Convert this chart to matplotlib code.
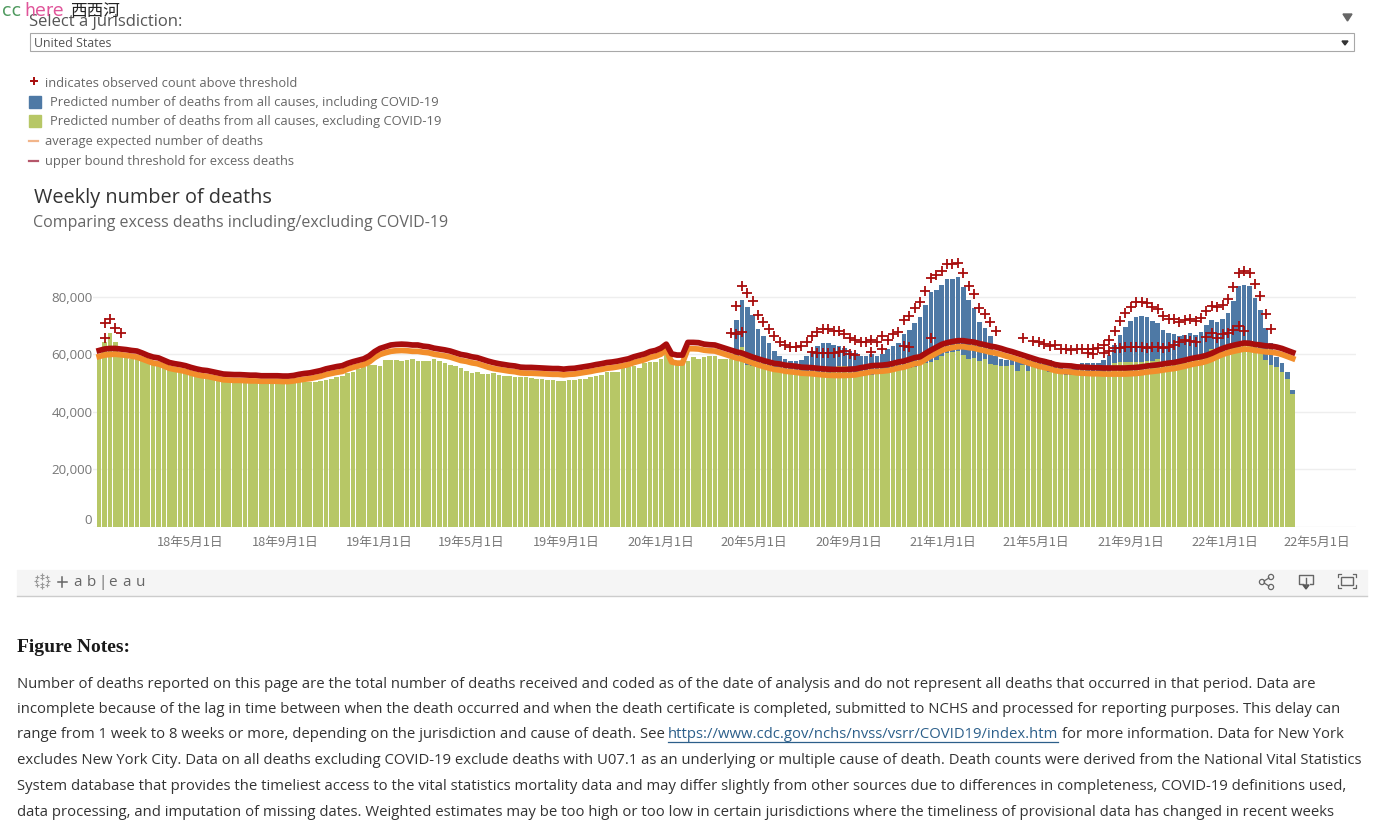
import matplotlib
matplotlib.use('Agg')
import matplotlib.pyplot as plt
import matplotlib.transforms as mtransforms
import numpy as np
import pandas as pd
from matplotlib.patches import Rectangle, Polygon, Circle

# semanas (fim de semana epidemiologica)
weeks = pd.date_range('2018-01-06', periods=222, freq='7D')

# valores em milhares de mortes
excluding = [
    58.4,64.3,67.3,64.3,59.1,58.9,58.6,58.3,58.0,57.5,
    57.3,56.6,56.1,56.0,55.8,55.4,54.8,54.2,53.9,53.7,
    53.2,52.9,52.3,51.7,51.1,50.7,50.7,50.9,50.7,50.5,
    50.4,50.3,50.3,50.2,50.2,50.3,50.2,50.3,50.3,50.4,
    50.5,50.9,51.1,51.6,52.0,52.6,53.4,54.0,54.8,55.5,
    56.3,56.3,56.0,58.1,58.1,58.1,57.7,58.1,58.4,57.7,
    57.7,57.7,58.3,57.7,56.9,56.3,56.1,55.4,54.2,53.4,
    53.8,53.1,53.2,53.4,52.9,52.6,52.5,52.3,52.2,52.2,
    51.7,51.6,51.6,51.1,51.3,50.8,50.8,51.1,51.3,51.5,
    51.5,52.3,52.5,52.9,54.0,54.0,54.0,55.5,55.7,56.0,
    55.2,56.9,57.3,57.3,58.4,59.8,58.6,57.7,57.7,57.7,
    59.0,58.4,59.0,59.4,59.4,58.4,58.4,58.4,58.0,62.5,
    56.3,56.0,55.7,55.4,54.8,54.3,54.0,53.4,53.4,53.2,
    53.2,52.8,52.9,52.8,52.8,52.8,55.5,56.0,56.0,52.6,
    52.5,52.6,52.8,53.0,53.4,53.6,54.0,54.6,55.0,55.2,
    55.2,55.8,56.4,57.0,57.5,58.2,59.6,60.6,61.0,61.3,
    59.8,58.6,58.9,57.8,58.3,56.7,56.3,56.0,56.0,56.3,
    54.3,56.3,54.3,55.5,55.1,54.6,54.0,53.6,53.2,53.0,
    52.9,52.7,52.6,52.6,52.5,52.5,52.5,52.8,57.2,57.5,
    57.5,57.5,57.5,57.5,57.8,57.8,58.3,56.6,57.0,57.2,
    57.5,58.3,58.5,58.8,59.0,59.8,62.0,60.5,61.0,61.8,
    63.0,64.5,64.8,64.6,64.0,60.5,58.2,56.3,55.7,54.0,
    51.4,46.1,
]

# a serie azul so aparece a partir da semana 118
including_start = 118
including = [
    72.0,78.9,76.4,73.7,68.8,66.4,64.1,61.2,59.4,58.4,57.6,57.6,
    58.0,59.4,61.2,62.9,63.9,63.9,63.3,63.0,62.1,61.2,
    60.4,59.4,59.4,60.1,59.4,60.1,61.8,62.9,64.1,67.1,
    68.5,71.1,73.0,77.2,81.6,82.6,84.1,86.4,86.4,86.8,
    83.6,78.9,76.0,71.3,69.3,66.4,59.4,58.6,58.0,58.0,
    57.6,58.0,59.0,59.0,58.6,58.6,58.0,56.5,55.5,55.0,
    55.0,56.0,56.9,56.9,56.9,56.9,58.0,59.8,63.3,66.7,
    69.4,71.6,73.1,73.3,73.1,71.6,71.0,68.5,67.3,67.0,
    66.4,66.7,67.3,66.7,67.7,70.2,72.0,71.3,72.2,74.5,
    78.6,83.9,84.1,83.8,79.5,75.4,69.1,63.9,59.2,57.2,53.8,47.6,
]

threshold = [
    61.4,61.9,62.1,62.1,61.9,61.7,61.4,61.2,60.5,59.7,
    59.1,58.8,58.0,57.2,56.8,56.5,56.1,55.5,55.0,54.6,
    54.4,54.0,53.6,53.2,53.1,53.0,53.0,52.9,52.8,52.8,
    52.6,52.6,52.6,52.6,52.5,52.5,52.7,53.1,53.4,53.6,
    54.0,54.4,55.0,55.4,55.8,56.1,56.9,57.5,58.0,58.5,
    59.5,61.0,62.1,62.7,63.3,63.5,63.6,63.5,63.3,63.3,
    62.9,62.7,62.2,61.9,61.6,61.2,60.6,60.0,59.7,59.2,
    58.9,58.3,57.7,57.2,56.8,56.5,56.2,56.0,55.6,55.5,
    55.5,55.4,55.3,55.2,55.1,55.1,54.9,55.1,55.2,55.5,
    55.8,56.1,56.5,56.8,57.2,57.4,57.7,58.1,58.5,59.2,
    59.7,60.2,61.0,61.4,62.2,63.6,60.2,59.8,59.8,64.2,
    64.2,64.1,63.6,63.4,63.3,62.7,62.1,61.5,60.9,60.5,
    59.8,59.1,58.5,57.9,57.4,56.9,56.7,56.3,56.1,55.9,
    55.6,55.5,55.4,55.2,55.0,54.9,54.8,54.8,54.8,54.9,
    55.0,55.4,55.7,56.1,56.2,56.3,56.5,56.9,57.4,57.7,
    58.3,58.9,59.2,60.4,61.5,62.5,63.5,64.1,64.5,64.8,
    64.8,64.5,64.3,63.8,63.4,62.9,62.6,62.1,61.5,61.0,
    60.4,59.8,59.2,58.6,58.0,57.6,57.1,56.5,56.2,56.1,
    56.0,55.7,55.6,55.5,55.4,55.4,55.3,55.3,55.3,55.3,
    55.3,55.4,55.5,55.7,56.0,56.2,56.4,56.7,57.0,57.2,
    57.6,58.0,58.5,58.9,59.2,59.7,60.4,61.3,62.1,62.7,
    63.2,63.6,64.0,63.9,63.5,63.3,63.0,62.9,62.6,62.1,
    61.4,60.7,
]

expected = [
    59.3,59.8,60.0,60.1,59.9,59.7,59.4,59.1,58.4,57.7,
    57.0,56.7,56.0,55.2,54.8,54.5,54.1,53.5,53.0,52.6,
    52.4,52.0,51.6,51.2,51.1,51.0,51.0,50.9,50.8,50.8,
    50.7,50.7,50.7,50.7,50.6,50.6,50.8,51.1,51.4,51.6,
    52.0,52.4,53.0,53.4,53.8,54.1,54.9,55.5,56.0,56.5,
    57.4,58.9,60.0,60.6,61.1,61.3,61.4,61.3,61.1,61.1,
    60.8,60.6,60.1,59.8,59.5,59.1,58.5,57.9,57.6,57.1,
    56.8,56.2,55.6,55.1,54.8,54.5,54.2,54.0,53.6,53.5,
    53.5,53.4,53.3,53.2,53.1,53.1,52.9,53.1,53.2,53.5,
    53.8,54.1,54.5,54.8,55.2,55.4,55.7,56.1,56.5,57.2,
    57.7,58.2,59.0,59.4,60.1,61.5,57.4,57.0,57.0,62.0,
    62.0,61.9,61.5,61.3,61.2,60.6,60.0,59.4,58.8,58.4,
    57.7,57.0,56.4,55.8,55.3,54.8,54.6,54.2,54.0,53.8,
    53.5,53.4,53.3,53.1,52.9,52.8,52.7,52.7,52.7,52.8,
    52.9,53.3,53.6,54.0,54.1,54.2,54.4,54.8,55.3,55.6,
    56.2,56.8,57.1,58.3,59.4,60.4,61.4,62.0,62.4,62.7,
    62.7,62.4,62.2,61.7,61.3,60.8,60.5,60.0,59.4,58.9,
    58.3,57.7,57.1,56.5,55.9,55.5,55.0,54.4,54.1,54.0,
    53.9,53.6,53.5,53.4,53.3,53.3,53.2,53.2,53.2,53.2,
    53.2,53.3,53.4,53.6,53.9,54.1,54.3,54.6,54.9,55.1,
    55.5,55.9,56.4,56.8,57.1,57.6,58.3,59.2,60.0,60.6,
    61.1,61.5,61.9,61.8,61.4,61.2,60.9,60.8,60.5,60.0,
    59.3,58.6,
]

# cruzes: indice da semana e valor observado
upper_idx = [1,2,3,4] + list(range(118,167)) + [171] + list(range(173,218))
upper_val = [
    71.0,72.3,69.1,67.6,
    76.9,83.9,81.5,78.7,73.8,71.4,68.9,66.4,64.4,63.3,62.7,62.7,
    62.9,64.4,66.4,67.7,68.8,68.8,68.1,68.1,67.0,65.8,
    65.0,64.3,64.3,65.2,64.4,66.5,65.0,67.0,67.9,72.0,
    73.5,76.2,78.1,82.0,86.6,87.5,89.0,91.4,91.4,91.7,
    88.3,83.9,81.0,76.2,74.0,71.4,68.1,
    65.8,
    64.8,64.2,63.6,63.0,63.4,61.9,61.9,61.5,62.0,61.8,61.8,61.8,
    62.1,63.3,64.9,68.1,71.6,74.5,76.4,78.1,78.3,78.0,
    76.6,75.8,73.5,72.3,72.2,71.4,72.0,72.3,71.7,72.8,
    75.1,76.9,76.4,77.2,79.3,83.5,88.5,89.0,88.5,84.5,80.3,74.0,68.8,
]
lower_idx = [1,117,118,119,132,133,134,135,136,137,138,139,140,143,145,149,150,154,
             183,184,186,187,188,189,190,191,192,193,194,195,196,197,198,199,
             200,201,202,203,205,206,207,208,209,210,211,212]
lower_val = [65.6,67.6,67.1,67.7,60.7,60.6,60.6,60.6,60.6,60.9,61.2,60.0,59.7,61.0,61.8,63.0,62.7,65.8,
             60.5,60.3,60.4,61.2,62.3,62.4,62.5,62.5,62.5,62.6,62.3,62.5,62.7,62.3,62.5,63.3,
             64.2,65.0,64.8,64.4,66.2,67.3,65.9,67.0,67.6,68.5,70.0,68.1]

y_ticks = [0, 20000, 40000, 60000, 80000]
y_labels = ['0', '20,000', '40,000', '60,000', '80,000']
x_dates = pd.to_datetime(['2018-05-01','2018-09-01','2019-01-01','2019-05-01','2019-09-01',
                          '2020-01-01','2020-05-01','2020-09-01','2021-01-01','2021-05-01',
                          '2021-09-01','2022-01-01','2022-05-01'])
x_labels = ['18年5月1日','18年9月1日','19年1月1日','19年5月1日','19年9月1日',
            '20年1月1日','20年5月1日','20年9月1日','21年1月1日','21年5月1日',
            '21年9月1日','22年1月1日','22年5月1日']

notes = [
    'Number of deaths reported on this page are the total number of deaths received and coded as of the date of analysis and do not represent all deaths that occurred in that period. Data are',
    'incomplete because of the lag in time between when the death occurred and when the death certificate is completed, submitted to NCHS and processed for reporting purposes. This delay can',
    None,
    'excludes New York City. Data on all deaths excluding COVID-19 exclude deaths with U07.1 as an underlying or multiple cause of death. Death counts were derived from the National Vital Statistics',
    'System database that provides the timeliest access to the vital statistics mortality data and may differ slightly from other sources due to differences in completeness, COVID-19 definitions used,',
    'data processing, and imputation of missing dates. Weighted estimates may be too high or too low in certain jurisdictions where the timeliness of provisional data has changed in recent weeks',
]

BLUE = '#4e79a5'
GREEN = '#b7c766'
RED = '#a80d0d'
ORANGE = '#f28e2b'
GRAY = '#777777'
W, H = 1386, 823
NOTE_FS = 10.69

plt.rcParams['font.family'] = ['Open Sans', 'Noto Sans CJK SC', 'DejaVu Sans']

fig = plt.figure(figsize=(13.86, 8.23), dpi=100)

# parte do grafico
ax = fig.add_axes([93/W, 1-527/H, (1356-93)/W, (527-250)/H])
ax.patch.set_alpha(0)
weeks_inc = weeks[including_start:]
ax.bar(weeks_inc, np.array(including)*1000, width=6.0, color=BLUE, zorder=2)
ax.bar(weeks, np.array(excluding)*1000, width=6.0, color=GREEN, zorder=3)
ax.plot(weeks, np.array(expected)*1000, color=ORANGE, linewidth=4.1, zorder=4)
ax.plot(weeks, np.array(threshold)*1000, color=RED, linewidth=4.1, zorder=5)
ax.plot(weeks[upper_idx], np.array(upper_val)*1000, '+', color=RED, ms=6.5, mew=1.3, zorder=6)
ax.plot(weeks[lower_idx], np.array(lower_val)*1000, '+', color=RED, ms=6.5, mew=1.3, zorder=6)

ax.set_xlim(pd.Timestamp('2017-12-29'), pd.Timestamp('2022-06-23'))
ax.set_ylim(0, 277*347.8)
for s in ax.spines.values():
    s.set_visible(False)
ax.set_yticks(y_ticks)
ax.set_yticklabels(y_labels, fontsize=9.6, color=GRAY)
ax.set_xticks(x_dates)
ax.set_xticklabels(x_labels, fontsize=9.2, color=GRAY, family=['Noto Sans CJK SC', 'DejaVu Sans'])
ax.tick_params(axis='both', length=0)
ax.tick_params(axis='x', pad=6.5)
ax.tick_params(axis='y', pad=0.5)
ax.grid(axis='y', color='#eeeeee', linewidth=1, zorder=1)
ax.set_axisbelow(True)

# o rotulo 0 fica levantado no original, e os de baixo 2px para a direita
lab0 = ax.get_yticklabels()[0]
lab0.set_va('bottom')
for lab in ax.get_xticklabels():
    lab.set_transform(lab.get_transform() + mtransforms.ScaledTranslation(1.5/72, 0, fig.dpi_scale_trans))

# resto da pagina, em pixels
pg = fig.add_axes([0, 0, 1, 1])
pg.set_xlim(0, W)
pg.set_ylim(H, 0)
pg.axis('off')
pg.patch.set_alpha(0)

pg.text(29, 21.5, 'Select a jurisdiction:', fontsize=12, color='#555555', va='center')
pg.text(2, 10.5, 'cc', fontsize=12.5, color='#4f9a5f', va='center', family='DejaVu Sans')
pg.text(24, 10.5, 'here', fontsize=12.5, color='#e0559a', va='center', family='DejaVu Sans')
pg.text(70, 11, '西西河', fontsize=12, color='#222222', va='center', weight='medium',
        family=['Noto Sans CJK SC', 'DejaVu Sans'])
pg.add_patch(Polygon([(1343, 14), (1352, 14), (1347.5, 21)], color='#666666'))

pg.add_patch(Rectangle((30, 33), 1324, 18, facecolor='white', edgecolor='#a8a8a8', linewidth=0.8))
pg.text(34, 43.5, 'United States', fontsize=8.9, color='#555555', va='center')
pg.add_patch(Polygon([(1342, 41), (1348, 41), (1345, 45)], color='#333333'))

# legenda
pg.plot([33.5], [81], '+', color=RED, ms=6, mew=1.4)
pg.text(45, 83.5, 'indicates observed count above threshold', fontsize=9.32, color='#666666', va='center')
pg.add_patch(Rectangle((29, 96), 12, 12, color=BLUE))
pg.text(50, 102.5, 'Predicted number of deaths from all causes, including COVID-19', fontsize=9.35, color='#666666', va='center')
pg.add_patch(Rectangle((29, 115), 12, 12, color=GREEN))
pg.text(50, 121.5, 'Predicted number of deaths from all causes, excluding COVID-19', fontsize=9.35, color='#666666', va='center')
pg.plot([29, 38], [141, 141], color='#f2b58a', lw=1.6)
pg.text(45, 141.5, 'average expected number of deaths', fontsize=9.32, color='#666666', va='center')
pg.plot([29, 38], [161, 161], color='#b5566a', lw=1.6)
pg.text(45, 161.5, 'upper bound threshold for excess deaths', fontsize=9.32, color='#666666', va='center')

pg.text(34, 198, 'Weekly number of deaths', fontsize=14.3, color='#333333', va='center', weight='medium')
pg.text(33, 222.5, 'Comparing excess deaths including/excluding COVID-19', fontsize=11.55, color='#666666', va='center')

# barra do tableau
pg.add_patch(Rectangle((17, 570), 1350, 25, color='#f5f5f5'))
pg.plot([17, 1367], [595.5, 595.5], color='#cccccc', lw=1)
pg.plot([42, 42, 42, 42, 36, 48, 37, 47, 37, 47],
        [575, 587, 578, 584, 581, 581, 577, 577, 585, 585], '+', color='#999999', ms=3.5, mew=0.8)
pg.plot([57.5, 67], [581.5, 581.5], color='#666666', lw=1.1)
pg.plot([62.2, 62.2], [576.5, 586.5], color='#666666', lw=1.1)
for letter, lx in zip(['a', 'b', '|', 'e', 'a', 'u'], [73, 87, 98.5, 108, 122, 136]):
    pg.text(lx, 582, letter, fontsize=11, color='#666666', va='center')
# icones
pg.add_patch(Circle((1262, 582), 2.6, fill=False, ec='#666666', lw=0.9))
pg.add_patch(Circle((1271, 577), 2.6, fill=False, ec='#666666', lw=0.9))
pg.add_patch(Circle((1271, 587), 2.6, fill=False, ec='#666666', lw=0.9))
pg.plot([1264, 1269], [581, 578], color='#666666', lw=0.9)
pg.plot([1264, 1269], [583, 586], color='#666666', lw=0.9)
pg.plot([1303, 1299, 1299, 1313, 1313, 1310], [584, 584, 575, 575, 584, 584], color='#666666', lw=1)
pg.plot([1306, 1306], [578, 586], color='#666666', lw=1)
pg.add_patch(Polygon([(1303, 585), (1309, 585), (1306, 589)], color='#555555'))
pg.add_patch(Rectangle((1341, 577), 12, 8, fill=False, ec='#666666', lw=1))
for sx, sy in [(1338, 574), (1356, 574), (1338, 588), (1356, 588)]:
    dx = 3 if sx < 1347 else -3
    dy = 3 if sy < 581 else -3
    pg.plot([sx+dx, sx, sx], [sy, sy, sy+dy], color='#666666', lw=0.9)

# notas
pg.text(17, 647.5, 'Figure Notes:', fontsize=14, color='#1a1a1a', va='center', weight='bold', family='Liberation Serif')
note_y = [684, 709.5, 735, 761, 786.5, 812]
for line, yy in zip(notes, note_y):
    if line is not None:
        pg.text(17, yy, line, fontsize=NOTE_FS, color='#333333', va='center')
pg.text(17, 735, 'range from 1 week to 8 weeks or more, depending on the jurisdiction and cause of death. See',
        fontsize=NOTE_FS, color='#333333', va='center')
pg.text(668, 735, 'https://www.cdc.gov/nchs/nvss/vsrr/COVID19/index.htm', fontsize=NOTE_FS, color='#2c5f8a', va='center')
pg.plot([668, 1058], [741.5, 741.5], color='#2c5f8a', lw=0.9)
pg.text(1062, 735, 'for more information. Data for New York', fontsize=NOTE_FS, color='#333333', va='center')

fig.savefig('out.png', dpi=100)
